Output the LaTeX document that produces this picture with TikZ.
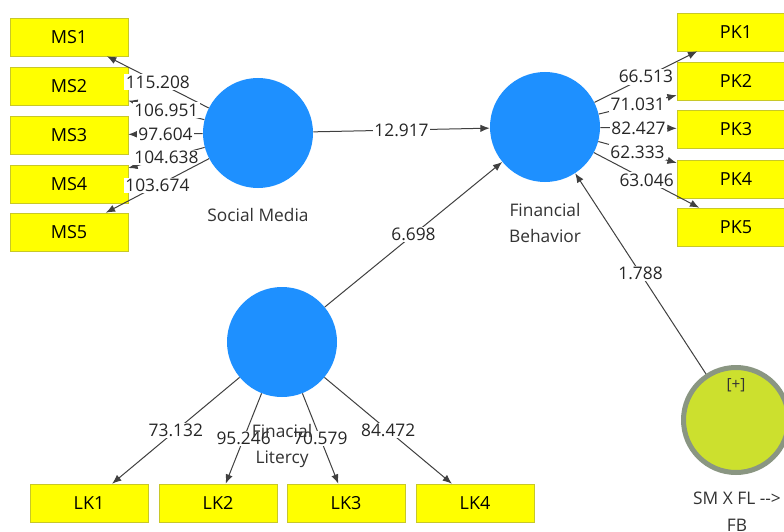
\documentclass[tikz,border=0pt]{standalone}
\usepackage{fontspec}
\setmainfont{Open Sans}
\usetikzlibrary{arrows.meta}
\definecolor{lvblue}{RGB}{30,144,255}
\definecolor{indyellow}{RGB}{255,255,0}
\definecolor{indedge}{RGB}{200,200,40}
\definecolor{modfill}{RGB}{204,224,46}
\definecolor{modedge}{RGB}{138,150,130}
\definecolor{linkgray}{RGB}{64,64,64}
\begin{document}
\begin{tikzpicture}[x=0.75pt,y=-0.75pt,
    ind/.style={draw=indedge, fill=indyellow, minimum width=88.5pt, minimum height=28.5pt, inner sep=0pt, font=\fontsize{13.5}{15}\selectfont},
    lv/.style={circle, fill=lvblue, minimum size=82.5pt, inner sep=0pt},
    lvname/.style={align=center, text=black!80, font=\fontsize{13}{20}\selectfont},
    coef/.style={fill=white, inner sep=1pt, text=black!85, font=\fontsize{13}{14}\selectfont},
    link/.style={draw=linkgray, line width=0.75pt, -{Latex[length=7pt,width=5.5pt]}}]
      \useasboundingbox (0,0) rectangle (784,531);
      \clip (0,0) rectangle (784,531);
      \fill[white] (0,0) rectangle (784,531);
      \foreach \i/\y in {1/37,2/86,3/135,4/184,5/232}
      \node[ind] (ms\i) at (69,\y) {MS\i};
      \foreach \i/\y in {1/32,2/81,3/129,4/179,5/227}
      \node[ind] (pk\i) at (736,\y) {PK\i};
      \foreach \i/\x in {1/89,2/218,3/346,4/475}
      \node[ind] (lk\i) at (\x,503) {LK\i};
      \node[lv] (sm) at (258,133) {};
      \node[lv] (fb) at (545,127) {};
      \node[lv] (fl) at (282,342) {};
      \node[circle, draw=modedge, line width=3.75pt, fill=modfill, minimum size=78.75pt, inner sep=0pt] (mod) at (736,420) {};
      \node[text=black!80, font=\fontsize{11.5}{12}\selectfont] (modtag) at (736,385) {[+]};
      \draw[link] (sm) -- node[coef] {115.208} (ms1);
      \draw[link] (sm) -- node[coef] {106.951} (ms2);
      \draw[link] (sm) -- node[coef] {97.604} (ms3);
      \draw[link] (sm) -- node[coef] {104.638} (ms4);
      \draw[link] (sm) -- node[coef] {103.674} (ms5);
      \draw[link] (fb) -- node[coef] {66.513} (pk1);
      \draw[link] (fb) -- node[coef] {71.031} (pk2);
      \draw[link] (fb) -- node[coef] {82.427} (pk3);
      \draw[link] (fb) -- node[coef] {62.333} (pk4);
      \draw[link] (fb) -- node[coef] {63.046} (pk5);
      \draw[link] (fl) -- node[coef] {73.132} (lk1);
      \draw[link] (fl) -- node[coef] {95.246} (lk2);
      \draw[link] (fl) -- node[coef] {70.579} (lk3);
      \draw[link] (fl) -- node[coef] {84.472} (lk4);
      \draw[link] (sm) -- node[coef] {12.917} (fb);
      \draw[link] (fl) -- node[coef] {6.698} (fb);
      \draw[link] (mod) -- node[coef] {1.788} (fb);
      \node[lvname] (smname) at (258,215) {Social Media};
      \node[lvname] (fbname) at (545,223) {Financial\\Behavior};
      \node[lvname] (flname) at (282,446) {Finacial\\Litercy};
      \node[lvname] (modname) at (737,512) {SM X FL {-}{-}>\\FB};
\end{tikzpicture}
\end{document}
